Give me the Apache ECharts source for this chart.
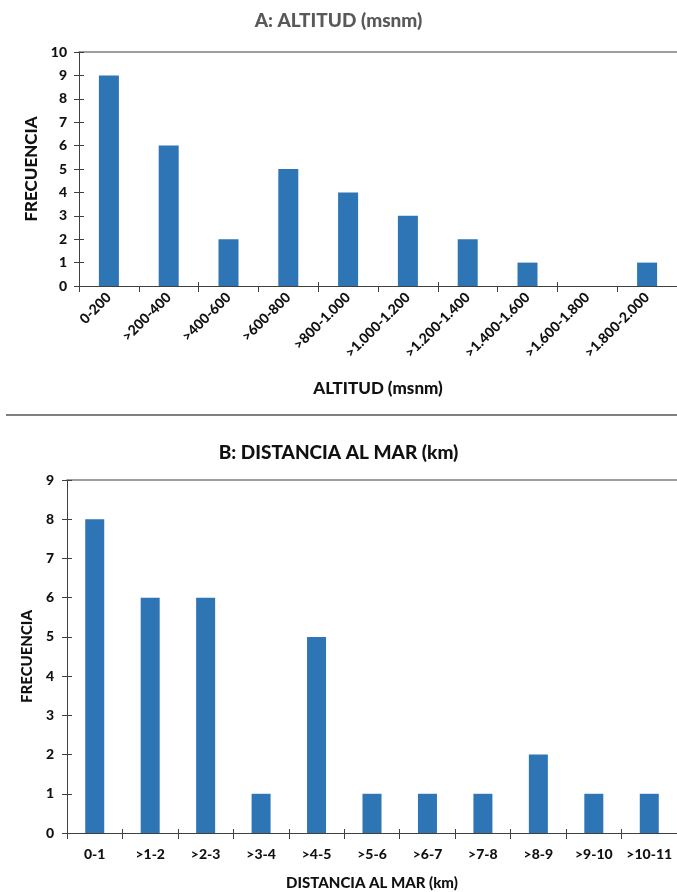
<!DOCTYPE html>
<html>
<head>
<meta charset="utf-8">
<script src="https://cdn.jsdelivr.net/npm/echarts@6/dist/echarts.min.js"></script>
<style>
html,body{margin:0;padding:0;background:#fff;}
#c{width:677px;height:892px;}
</style>
</head>
<body>
<div id="c"></div>
<script>
// Data
const altCategories = ['0-200','>200-400','>400-600','>600-800','>800-1.000','>1.000-1.200','>1.200-1.400','>1.400-1.600','>1.600-1.800','>1.800-2.000'];
const altValues = [9,6,2,5,4,3,2,1,0,1];
const distCategories = ['0-1','>1-2','>2-3','>3-4','>4-5','>5-6','>6-7','>7-8','>8-9','>9-10','>10-11'];
const distValues = [8,6,6,1,5,1,1,1,2,1,1];
const altTitle = 'A: ALTITUD (msnm)';
const distTitle = 'B: DISTANCIA AL MAR (km)';
const yName = 'FRECUENCIA';
const altXName = 'ALTITUD (msnm)';
const distXName = 'DISTANCIA AL MAR (km)';

const FONT = 'Lato';
const BAR = '#2E75B6';
const AXIS = '#404040';
const TXT = '#111';

const chart = echarts.init(document.getElementById('c'), null, {renderer:'canvas'});

function gridAxes(gi, cats, xName, max, o) {
  const xs = [
    {
      type:'category', data:cats, gridIndex:gi, position:'bottom',
      axisLine:{show:true, lineStyle:{color:AXIS, width:1}},
      axisTick:{show:true, alignWithLabel:false, length:6, lineStyle:{color:AXIS}},
      axisLabel:{interval:0, rotate:o.xRotate, fontFamily:FONT, fontWeight:900, fontSize:o.xLabelSize, color:TXT, margin:o.xMargin},
      name:xName, nameLocation:'middle', nameGap:o.xGap,
      nameTextStyle:{fontFamily:FONT, fontWeight:900, fontSize:o.xNameSize, color:TXT}
    },
    {
      type:'category', data:cats, gridIndex:gi, position:'bottom',
      axisLine:{show:false}, axisTick:{show:true, inside:true, length:4, lineStyle:{color:AXIS}},
      axisLabel:{show:false}
    },
    {
      type:'category', data:cats, gridIndex:gi, position:'top',
      axisLine:{show:true, lineStyle:{color:'#7f7f7f', width:1.5}}, axisTick:{show:false}, axisLabel:{show:false}
    }
  ];
  const ys = [
    {
      type:'value', gridIndex:gi, min:0, max:max, interval:1,
      axisLine:{show:true, lineStyle:{color:AXIS}},
      axisTick:{show:true, length:5, lineStyle:{color:AXIS}},
      splitLine:{show:false},
      axisLabel:{fontFamily:FONT, fontWeight:900, fontSize:o.yLabelSize, color:TXT, margin:o.yMargin},
      name:yName, nameLocation:'middle', nameGap:o.yGap, nameRotate:90,
      nameTextStyle:{fontFamily:FONT, fontWeight:900, fontSize:o.yNameSize, color:TXT}
    },
    {
      type:'value', gridIndex:gi, min:0, max:max, interval:1, position:'left',
      axisLine:{show:false}, axisTick:{show:true, inside:true, length:5, lineStyle:{color:AXIS}},
      splitLine:{show:false}, axisLabel:{show:false}
    }
  ];
  return {xs, ys};
}

const a = gridAxes(0, altCategories, altXName, 10,
  {xRotate:45, xLabelSize:14, xMargin:9, xGap:94, xNameSize:17, yLabelSize:14, yMargin:12, yGap:36, yNameSize:17});
const b = gridAxes(1, distCategories, distXName, 9,
  {xRotate:0, xLabelSize:14, xMargin:14, xGap:43, xNameSize:15, yLabelSize:14, yMargin:13, yGap:29, yNameSize:15});

chart.setOption({
  animation:false,
  backgroundColor:'#fff',
  title:[
    {text:altTitle, left:'center', top:6, textStyle:{fontFamily:FONT, fontWeight:900, fontSize:19, color:'#595959'}},
    {text:distTitle, left:'center', top:438, textStyle:{fontFamily:FONT, fontWeight:900, fontSize:19, color:'#111'}}
  ],
  grid:[
    {left:79, top:52, width:603, height:234, containLabel:false},
    {left:67, top:480, width:616, height:358, containLabel:false}
  ],
  xAxis:[...a.xs, ...b.xs],
  yAxis:[...a.ys, ...b.ys],
  series:[
    {type:'bar', data:altValues, xAxisIndex:0, yAxisIndex:0, barWidth:20, itemStyle:{color:BAR}},
    {type:'bar', data:distValues, xAxisIndex:3, yAxisIndex:2, barWidth:19, itemStyle:{color:BAR}}
  ],
  graphic:[
    {type:'line', shape:{x1:6, y1:415, x2:677, y2:415}, style:{stroke:'#808080', lineWidth:2}}
  ]
});
</script>
</body>
</html>
